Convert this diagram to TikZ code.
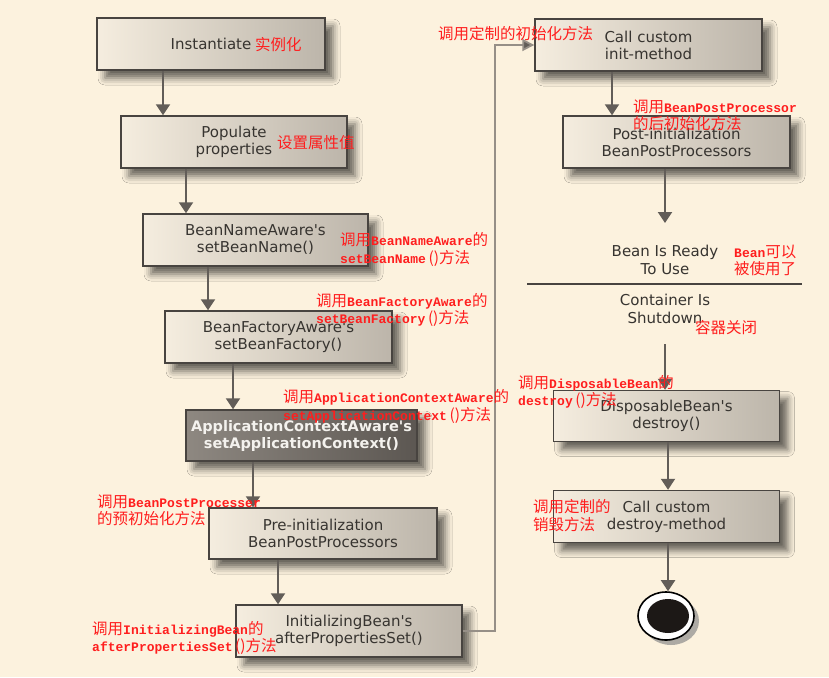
\documentclass[tikz,border=0pt]{standalone}
\usepackage{fontspec}
\setmainfont{DejaVu Sans}
\newfontfamily\cjk{Noto Sans CJK SC}
\newfontfamily\monofam{Liberation Mono}
\usetikzlibrary{arrows.meta,shadows.blur,shapes.geometric}
\definecolor{bg}{RGB}{252,242,222}
\definecolor{boxL}{RGB}{245,237,223}
\definecolor{boxR}{RGB}{188,181,170}
\definecolor{darkL}{RGB}{142,136,129}
\definecolor{darkR}{RGB}{92,87,82}
\definecolor{boxline}{RGB}{72,68,64}
\definecolor{arrowcol}{RGB}{98,93,88}
\definecolor{conncol}{RGB}{150,143,135}
\definecolor{boxtext}{RGB}{55,52,48}
\definecolor{annred}{RGB}{255,30,30}
\newcommand{\mn}[1]{{\monofam\bfseries\fontsize{13}{17.5}\selectfont #1}}
\newcommand{\aq}{\XeTeXglyph\XeTeXcharglyph"27\relax}
\tikzset{
  boxnode/.style={draw=boxline, line width=1.4pt, left color=boxL, right color=boxR,
    minimum height=52pt, inner sep=0pt, align=center, text=boxtext,
    font=\fontsize{15}{17}\selectfont,
    blur shadow={shadow xshift=8pt, shadow yshift=-8pt, shadow blur radius=7pt, shadow opacity=60}},
  darkbox/.style={boxnode, left color=darkL, right color=darkR, text={rgb,255:red,244;green,242;blue,238},
    font=\bfseries\fontsize{14.5}{17}\selectfont},
  arr/.style={draw=arrowcol, line width=2pt, -{Triangle[width=14pt,length=11pt]}},
  conn/.style={draw=conncol, line width=1.8pt, -{Triangle[width=12pt,length=12pt,fill=arrowcol]}},
  ann/.style={text=annred, inner sep=0pt, align=left, font=\cjk\fontsize{15.5}{17.5}\selectfont},
  plain/.style={text=boxtext, inner sep=0pt, align=center, font=\fontsize{15}{17.5}\selectfont}
}
\begin{document}
\begin{tikzpicture}[x=1pt,y=-1pt]
\useasboundingbox (0,0) rectangle (829,677);
\fill[bg] (0,0) rectangle (829,677);

% left column boxes
\node[boxnode, minimum width=228pt] (b1) at (211,44) {Instantiate};
\node[boxnode, minimum width=226pt] (b2) at (234,142) {Populate\\properties};
\node[boxnode, minimum width=225pt] (b3) at (255.5,240) {BeanNameAware\aq s\\setBeanName()};
\node[boxnode, minimum width=227pt] (b4) at (278.5,337) {BeanFactoryAware\aq s\\setBeanFactory()};
\node[darkbox, minimum width=231pt, minimum height=51pt] (b5) at (301.5,435.5) {ApplicationContextAware\aq s\\setApplicationContext()};
\node[boxnode, minimum width=228pt, minimum height=51pt] (b6) at (323,533.5) {Pre-initialization\\BeanPostProcessors};
\node[boxnode, minimum width=226pt] (b7) at (349,631) {InitializingBean\aq s\\afterPropertiesSet()};

% right column boxes
\node[boxnode, minimum width=227pt] (b8) at (648.5,45) {Call custom\\init-method};
\node[boxnode, minimum width=227pt] (b9) at (676.5,142) {Post-initialization\\BeanPostProcessors};
\node[plain] (ready) at (665,260) {Bean Is Ready\\To Use};
\coordinate (readytop) at (665,223);
\coordinate (sepL) at (527,284);
\coordinate (sepR) at (802,284);
\node[plain] (shut) at (665,309) {Container Is\\Shutdown};
\coordinate (shutbot) at (665,344);
\node[boxnode, minimum width=226pt, minimum height=51pt] (b10) at (666.5,416) {DisposableBean\aq s\\destroy()};
\node[boxnode, minimum width=226pt] (b11) at (666.5,516.5) {Call custom\\destroy-method};

% end state
\fill[black!45, opacity=0.7] (671,621) ellipse [x radius=28pt, y radius=24pt];
\node[ellipse, draw=black, line width=1.6pt, fill=white, minimum width=56pt, minimum height=48pt, inner sep=0pt] (endo) at (666,616) {};
\node[ellipse, fill={rgb,255:red,28;green,24;blue,22}, minimum width=42pt, minimum height=34pt, inner sep=0pt] (endi) at (668,616) {};

% arrows left column
\draw[arr] ([xshift=-48pt]b1.south) coordinate (t1) -- (t1 |- b2.north);
\draw[arr] ([xshift=-48pt]b2.south) coordinate (t2) -- (t2 |- b3.north);
\draw[arr] ([xshift=-47.5pt]b3.south) coordinate (t3) -- (t3 |- b4.north);
\draw[arr] ([xshift=-45.5pt]b4.south) coordinate (t4) -- (t4 |- b5.north);
\draw[arr] ([xshift=-48.5pt]b5.south) coordinate (t5) -- (t5 |- b6.north);
\draw[arr] ([xshift=-45pt]b6.south) coordinate (t6) -- (t6 |- b7.north);

% connector to right column
\draw[conn] (b7.east) -- ++(32,0) |- (b8.west);

% arrows right column
\draw[arr] ([xshift=-36.5pt]b8.south) coordinate (t8) -- (t8 |- b9.north);
\draw[arr] (b9.south -| readytop) -- (readytop);
\draw[draw=boxline, line width=1.3pt] (sepL) -- (sepR);
\draw[arr] (shutbot) -- (shutbot |- b10.north);
\draw[arr] ([xshift=1.5pt]b10.south) coordinate (t10) -- (t10 |- b11.north);
\draw[arr] ([xshift=1.5pt]b11.south) coordinate (t11) -- (t11 |- endo.north);

% red annotations
\node[ann, anchor=west] (a1) at (255,45) {实例化};
\node[ann, anchor=west] (a2) at (277,143) {设置属性值};
\node[ann, anchor=west] (a3) at (340,249.5) {调用\mn{BeanNameAware}的\\\mn{setBeanName}\,()方法};
\node[ann, anchor=west] (a4) at (316,310) {调用\mn{BeanFactoryAware}的\\\mn{setBeanFactory}\,()方法};
\node[ann, anchor=west] (a5) at (283,406.5) {调用\mn{ApplicationContextAware}的\\\mn{setApplicationContext}\,()方法};
\node[ann, anchor=west] (a6) at (97,510.5) {调用\mn{BeanPostProcesser}\\的预初始化方法};
\node[ann, anchor=west] (a7) at (92,638) {调用\mn{InitializingBean}的\\\mn{afterPropertiesSet}\,()方法};
\node[ann, anchor=west] (a8) at (438,34) {调用定制的初始化方法};
\node[ann, anchor=west] (a9) at (633,115.5) {调用\mn{BeanPostProcessor}\\的后初始化方法};
\node[ann, anchor=west] (a10) at (734,260.5) {\mn{Bean}可以\\被使用了};
\node[ann, anchor=west] (a11) at (695,328) {容器关闭};
\node[ann, anchor=west] (a12) at (518,392) {调用\mn{DisposableBean}的\\\mn{destroy}\,()方法};
\node[ann, anchor=west] (a13) at (533,515.5) {调用定制的\\销毁方法};
\end{tikzpicture}
\end{document}
